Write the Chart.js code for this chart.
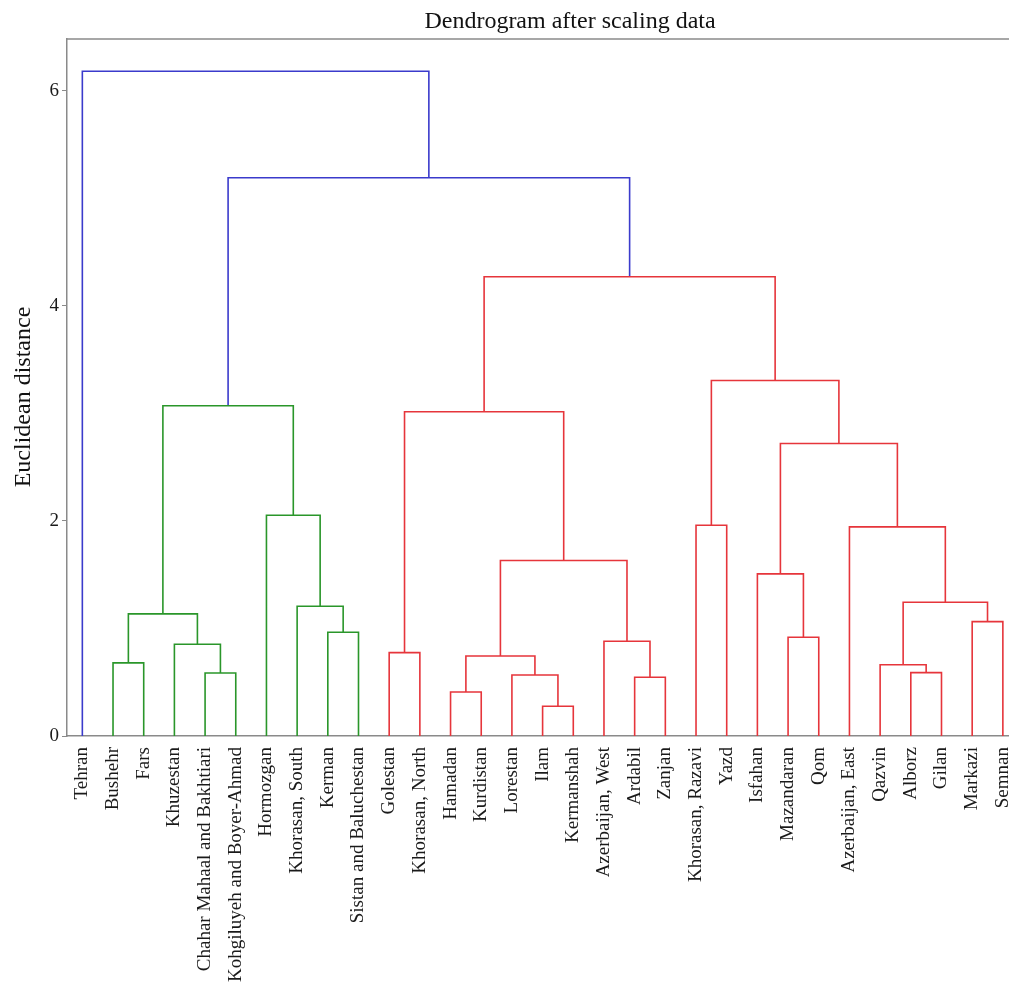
<!DOCTYPE html>
<html>
<head>
<meta charset="utf-8">
<script src="https://cdn.jsdelivr.net/npm/chart.js@4.4.1/dist/chart.umd.min.js"></script>
<style>
  html, body { margin: 0; padding: 0; background: #fff; }
  #wrap { width: 1009px; height: 992px; }
</style>
</head>
<body>
<div id="wrap"><canvas id="dendro"></canvas></div>
<script>
// leaf order, left to right
const leaves = [
  "Tehran", "Bushehr", "Fars", "Khuzestan", "Chahar Mahaal and Bakhtiari",
  "Kohgiluyeh and Boyer-Ahmad", "Hormozgan", "Khorasan, South", "Kerman",
  "Sistan and Baluchestan", "Golestan", "Khorasan, North", "Hamadan", "Kurdistan",
  "Lorestan", "Ilam", "Kermanshah", "Azerbaijan, West", "Ardabil", "Zanjan",
  "Khorasan, Razavi", "Yazd", "Isfahan", "Mazandaran", "Qom", "Azerbaijan, East",
  "Qazvin", "Alborz", "Gilan", "Markazi", "Semnan"
];

// merges: ids 0..30 are leaves, merge k gets id 31 + k
const mergeLeft  = [15, 12, 18, 14,  4, 27, 26,  1, 32, 10,  3, 17, 23,  8, 29, 38,  7, 37, 22, 39, 25, 20,  6, 49, 40, 46, 52, 55, 56,  0];
const mergeRight = [16, 13, 19, 31,  5, 28, 36,  2, 34, 11, 35, 33, 24,  9, 30, 41, 44, 45, 43, 42, 48, 21, 47, 51, 50, 53, 54, 57, 58, 59];
const mergeHeight = [0.276, 0.409, 0.546, 0.567, 0.586, 0.589, 0.663, 0.68, 0.744, 0.775,
                     0.853, 0.881, 0.918, 0.965, 1.063, 1.135, 1.206, 1.244, 1.507, 1.631,
                     1.944, 1.96, 2.053, 2.72, 3.014, 3.07, 3.305, 4.27, 5.19, 6.18];

const yTicks = [0, 2, 4, 6];

const aboveColor = '#3b3bcc';
const palette = ['#2a962a', '#e6353b'];
const axisGray = '#8a8a8a';
const serif = "'Liberation Serif', 'DejaVu Serif', serif";

const n = leaves.length;
const posX = [];
const posY = [];
for (let i = 0; i < n; i++) { posX[i] = 5 + 10 * i; posY[i] = 0; }
for (let k = 0; k < mergeHeight.length; k++) {
  posX[n + k] = (posX[mergeLeft[k]] + posX[mergeRight[k]]) / 2;
  posY[n + k] = mergeHeight[k];
}

// colour like scipy: clusters under 0.7 * max get their own colour
const threshold = 0.7 * Math.max(...mergeHeight);
const linkColor = [];
let nextColor = 0;
function paint(id, color) {
  if (id < n) return;
  const k = id - n;
  let c = color;
  if (!c && mergeHeight[k] < threshold) {
    c = palette[nextColor % palette.length];
    nextColor++;
  }
  linkColor[k] = c || aboveColor;
  paint(mergeLeft[k], c);
  paint(mergeRight[k], c);
}
paint(n + mergeHeight.length - 1, null);

const datasets = mergeHeight.map((h, k) => {
  const a = mergeLeft[k], b = mergeRight[k];
  return {
    data: [
      { x: posX[a], y: posY[a] },
      { x: posX[a], y: h },
      { x: posX[b], y: h },
      { x: posX[b], y: posY[b] }
    ],
    showLine: true,
    borderColor: linkColor[k],
    borderWidth: 1.6,
    pointRadius: 0,
    tension: 0,
    fill: false
  };
});

const textPlugin = {
  id: 'textPlugin',
  afterDraw(chart) {
    const ctx = chart.ctx;
    const area = chart.chartArea;
    ctx.save();
    // top spine
    ctx.strokeStyle = axisGray;
    ctx.lineWidth = 1.5;
    ctx.beginPath();
    ctx.moveTo(area.left, area.top);
    ctx.lineTo(area.right, area.top);
    ctx.stroke();
    // title
    ctx.fillStyle = '#111';
    ctx.font = '24px ' + serif;
    ctx.textAlign = 'center';
    ctx.textBaseline = 'alphabetic';
    ctx.fillText('Dendrogram after scaling data', 570, 28);
    // y axis title
    ctx.translate(30, 397);
    ctx.rotate(-Math.PI / 2);
    ctx.fillText('Euclidean distance', 0, 0);
    ctx.restore();
  }
};

new Chart(document.getElementById('dendro'), {
  type: 'scatter',
  data: { datasets: datasets },
  plugins: [textPlugin],
  options: {
    responsive: true,
    maintainAspectRatio: false,
    animation: false,
    layout: { padding: { top: 39, left: 0, right: 0, bottom: 0 } },
    plugins: {
      legend: { display: false },
      tooltip: { enabled: false },
      title: { display: false }
    },
    scales: {
      x: {
        type: 'linear',
        min: 0,
        max: 307,
        grid: { display: false, drawTicks: false },
        border: { display: true, color: axisGray, width: 1.5 },
        afterBuildTicks: (axis) => {
          axis.ticks = leaves.map((_, i) => ({ value: 5 + 10 * i }));
        },
        afterFit: (scale) => {
          scale.height = 256;
          scale.paddingLeft = 0;
          scale.paddingRight = 0;
        },
        ticks: {
          autoSkip: false,
          minRotation: 90,
          maxRotation: 90,
          padding: 11,
          color: '#1a1a1a',
          font: { family: serif, size: 19 },
          callback: (value, index) => leaves[index]
        }
      },
      y: {
        type: 'linear',
        min: 0,
        max: 6.48,
        grid: { display: true, drawOnChartArea: false, drawTicks: true, tickLength: 5, color: axisGray },
        border: { display: true, color: axisGray, width: 1.5 },
        afterBuildTicks: (axis) => {
          axis.ticks = yTicks.map(v => ({ value: v }));
        },
        afterFit: (scale) => {
          scale.width = 67;
          scale.paddingTop = 0;
          scale.paddingBottom = 0;
        },
        ticks: {
          padding: 3,
          color: '#1a1a1a',
          font: { family: serif, size: 19 }
        }
      }
    }
  }
});
</script>
</body>
</html>
